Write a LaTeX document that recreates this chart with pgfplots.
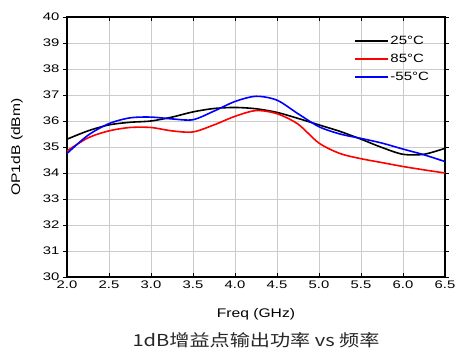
\documentclass[border=0pt]{standalone}
\usepackage{fontspec}
\setmainfont{Liberation Sans}[FakeStretch=1.25]
\newfontfamily\tickfont{Liberation Sans}[FakeStretch=1.35]
\newfontfamily\cjk{Noto Sans CJK SC}[FakeStretch=1.22]
\usepackage{pgfplots}
\pgfplotsset{compat=1.18}
\begin{document}
\begin{tikzpicture}[x=1pt,y=1pt]
\useasboundingbox (-67,-78) rectangle (408,277);
\begin{axis}[
  at={(0,0)}, anchor=south west,
  width=378pt, height=260pt, scale only axis,
  xmin=2.0, xmax=6.5, ymin=30, ymax=40,
  xtick={2.0,2.5,...,6.5},
  ytick={30,31,...,40},
  xticklabel style={/pgf/number format/.cd,fixed,fixed zerofill,precision=1},
  /pgf/number format/assume math mode=true,
  tick label style={font=\tickfont\fontsize{11}{13}\selectfont},
  xtick align=inside, ytick align=outside,
  major tick length=4pt,
  tick style={black, line width=0.8pt},
  grid=major,
  grid style={gray!40, line width=0.6pt},
  axis line style={black, line width=1.1pt},
  xlabel={Freq (GHz)}, ylabel={OP1dB (dBm)},
  label style={font=\fontsize{12.5}{14}\selectfont},
  xlabel style={at={(axis description cs:0.5,-0.1423)}, anchor=center},
  ylabel style={at={(axis description cs:-0.1323,0.5)}, anchor=center},
  legend style={at={(rel axis cs:0.97,0.95)}, anchor=north east, draw=none, fill=none,
    font=\fontsize{12}{14}\selectfont, nodes={inner ysep=4pt, inner xsep=1.5pt}},
  legend cell align=left,
  legend image code/.code={\draw[#1, line width=1.6pt] (0pt,0pt) -- (33pt,0pt);},
]
\addplot[black, line width=1.6pt, smooth] coordinates {
(2.0,35.30) (2.25,35.62) (2.5,35.85) (2.75,35.95) (3.0,36.00) (3.25,36.15)
(3.5,36.35) (3.75,36.48) (4.0,36.52) (4.25,36.47) (4.5,36.33) (4.75,36.10)
(5.0,35.85) (5.25,35.60) (5.5,35.30) (5.75,34.98) (6.0,34.72) (6.25,34.72) (6.5,34.95)};
\addlegendentry{25°C}
\addplot[red, line width=1.6pt, smooth] coordinates {
(2.0,34.85) (2.25,35.35) (2.5,35.62) (2.75,35.75) (3.0,35.75) (3.25,35.62)
(3.5,35.58) (3.75,35.85) (4.0,36.18) (4.25,36.40) (4.5,36.28) (4.75,35.88)
(5.0,35.15) (5.25,34.75) (5.5,34.55) (5.75,34.40) (6.0,34.25) (6.25,34.12) (6.5,34.00)};
\addlegendentry{85°C}
\addplot[blue, line width=1.6pt, smooth] coordinates {
(2.0,34.75) (2.25,35.45) (2.5,35.90) (2.75,36.12) (3.0,36.15) (3.25,36.08)
(3.5,36.05) (3.75,36.38) (4.0,36.75) (4.25,36.95) (4.5,36.80) (4.75,36.28)
(5.0,35.78) (5.25,35.50) (5.5,35.33) (5.75,35.15) (6.0,34.92) (6.25,34.70) (6.5,34.44)};
\addlegendentry{-55°C}
\end{axis}
\node[anchor=center, font=\cjk\fontsize{16.5}{18}\selectfont, text=black!85] at (189,-63) {1dB增益点输出功率 vs 频率};
\end{tikzpicture}
\end{document}
